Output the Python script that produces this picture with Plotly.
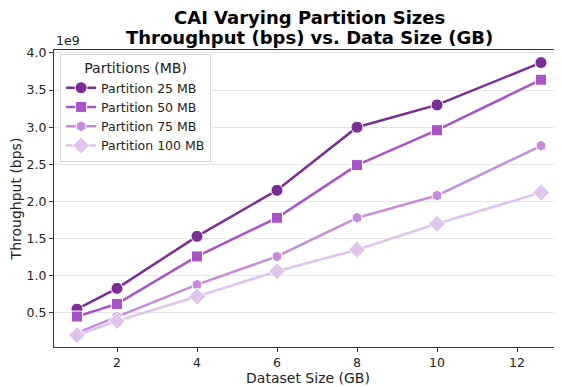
import plotly.graph_objects as go

dataset_gb = [1, 2, 4, 6, 8, 10, 12.6]
tp_25 = [0.55e9, 0.83e9, 1.53e9, 2.15e9, 3.00e9, 3.30e9, 3.87e9]
tp_50 = [0.45e9, 0.62e9, 1.26e9, 1.78e9, 2.49e9, 2.96e9, 3.64e9]
tp_75 = [0.23e9, 0.45e9, 0.88e9, 1.26e9, 1.78e9, 2.08e9, 2.75e9]
tp_100 = [0.20e9, 0.39e9, 0.72e9, 1.06e9, 1.35e9, 1.70e9, 2.12e9]
series_names = ["Partition 25 MB", "Partition 50 MB", "Partition 75 MB", "Partition 100 MB"]
y_tick_vals = [0.5e9, 1.0e9, 1.5e9, 2.0e9, 2.5e9, 3.0e9, 3.5e9, 4.0e9]
y_tick_text = ["0.5", "1.0", "1.5", "2.0", "2.5", "3.0", "3.5", "4.0"]
title_lines = ["CAI Varying Partition Sizes", "Throughput (bps) vs. Data Size (GB)"]

colors = ["#7B2D96", "#AA52C8", "#C68BDB", "#E0C4EC"]
symbols = ["circle", "square", "hexagon", "diamond"]
sizes = [12, 11, 11, 13]

fig = go.Figure()
for name, ys, c, s, sz in zip(series_names, [tp_25, tp_50, tp_75, tp_100], colors, symbols, sizes):
    fig.add_trace(go.Scatter(
        x=dataset_gb, y=ys, name=name, mode="lines+markers",
        line=dict(color=c, width=2.5),
        marker=dict(symbol=s, size=sz, color=c, line=dict(color="white", width=1)),
    ))

font_family = "DejaVu Sans"
# page body has an 8px margin, so the figure is sized to fill the rest of the window
fig.update_layout(
    width=554, height=379,
    margin=dict(l=46, r=0, t=42, b=40, autoexpand=False),
    paper_bgcolor="white", plot_bgcolor="white",
    font=dict(family=font_family, color="#222222", size=12),
    legend=dict(
        x=0.012, y=0.987, xanchor="left", yanchor="top",
        bgcolor="rgba(255,255,255,0.9)", bordercolor="#d9d9d9", borderwidth=1,
        title=dict(text="Partitions (MB)", font=dict(size=14), side="top center"),
        font=dict(size=12.5),
        itemwidth=30,
        tracegroupgap=2,
    ),
    showlegend=True,
)
for txt, yy in zip(title_lines, [1.111, 1.043]):
    fig.add_annotation(
        text=f"<b>{txt}</b>", xref="paper", yref="paper", x=0.502, y=yy,
        xanchor="center", yanchor="middle", showarrow=False,
        font=dict(size=18, color="black", family=font_family),
    )
fig.update_xaxes(
    range=[0.425, 13.125], tickvals=[2, 4, 6, 8, 10, 12],
    showgrid=False, zeroline=False, automargin=False,
    showline=True, linecolor="#333333", linewidth=1, mirror=True,
    ticks="outside", ticklen=4, tickcolor="#333333",
    tickfont=dict(size=12.5),
    title=dict(text="Dataset Size (GB)", font=dict(size=14), standoff=2),
)
fig.update_yaxes(
    range=[0.04e9, 4.04e9], tickvals=y_tick_vals, ticktext=y_tick_text,
    showgrid=True, gridcolor="#e6e6e6", gridwidth=1, zeroline=False, automargin=False,
    showline=True, linecolor="#333333", linewidth=1,
    ticks="outside", ticklen=4, tickcolor="#333333",
    tickfont=dict(size=12.5),
    title=dict(text="Throughput (bps)", font=dict(size=14), standoff=4),
)
fig.add_annotation(
    text="1e9", xref="paper", yref="paper", x=0, y=1.0,
    xanchor="left", yanchor="bottom", showarrow=False,
    font=dict(size=12.5, color="#222222"),
)
fig.write_html("out.html")
